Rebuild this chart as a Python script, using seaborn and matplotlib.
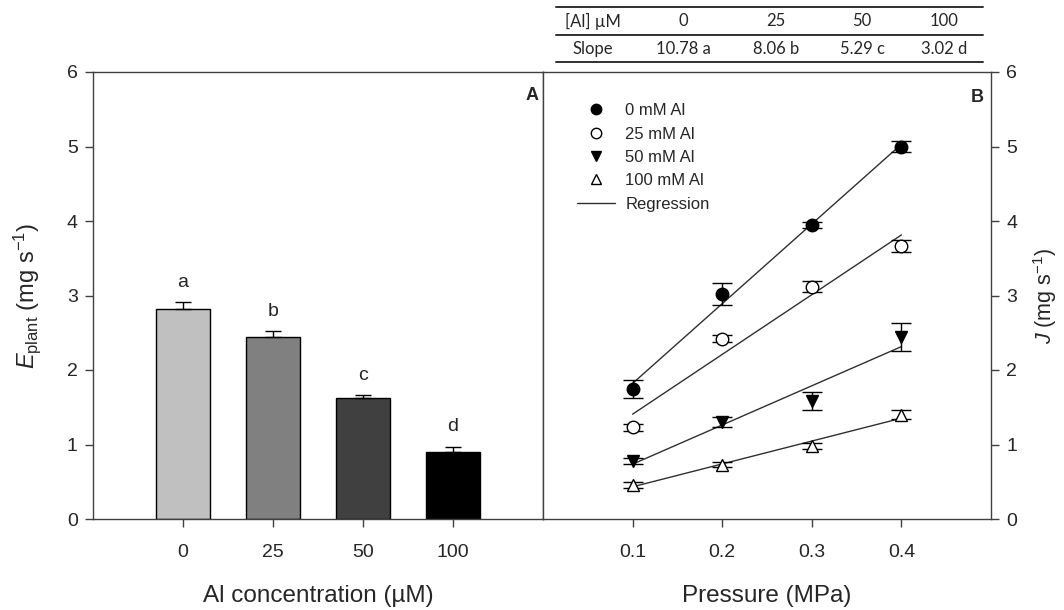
import numpy as np
import pandas as pd
import matplotlib
matplotlib.use("Agg")
import matplotlib.pyplot as plt
import seaborn as sns
from matplotlib.lines import Line2D

# ---------------- data ----------------
al_levels = ["0", "25", "50", "100"]
e_plant = [2.82, 2.44, 1.63, 0.90]
e_plant_err = [0.09, 0.08, 0.03, 0.07]
letters = ["a", "b", "c", "d"]
bar_colors = ["#c0c0c0", "#808080", "#404040", "#000000"]

pressure = [0.1, 0.2, 0.3, 0.4]
series_labels = ["0 mM Al", "25 mM Al", "50 mM Al", "100 mM Al"]
j_0 = [1.74, 3.02, 3.94, 5.00]
j_0_err = [0.12, 0.15, 0.04, 0.08]
j_25 = [1.23, 2.42, 3.12, 3.67]
j_25_err = [0.05, 0.05, 0.07, 0.08]
j_50 = [0.78, 1.30, 1.58, 2.44]
j_50_err = [0.04, 0.07, 0.12, 0.19]
j_100 = [0.46, 0.73, 0.98, 1.40]
j_100_err = [0.04, 0.03, 0.04, 0.06]

table_header = ["[Al] \u00b5M", "0", "25", "50", "100"]
table_slope = ["Slope", "10.78 a", "8.06 b", "5.29 c", "3.02 d"]

# ---------------- style ----------------
sns.set_theme(style="white")
plt.rcParams["font.family"] = ["Liberation Sans", "DejaVu Sans"]
plt.rcParams["mathtext.fontset"] = "custom"
plt.rcParams["mathtext.rm"] = "Liberation Sans"
plt.rcParams["mathtext.it"] = "Liberation Sans:italic"
plt.rcParams["mathtext.bf"] = "Liberation Sans:bold"

SPINE = "#404040"
SANS = ["Liberation Sans", "DejaVu Sans"]
fig = plt.figure(figsize=(10.64, 6.10), dpi=100)
ax1 = fig.add_axes([93 / 1064, 1 - 519 / 610, 450 / 1064, 447 / 610])
ax2 = fig.add_axes([543 / 1064, 1 - 519 / 610, 448 / 1064, 447 / 610])

# ---------------- panel A ----------------
df_a = pd.DataFrame({"al": al_levels, "e": e_plant})
sns.barplot(data=df_a, x="al", y="e", order=al_levels, hue="al",
            palette=bar_colors, legend=False, edgecolor="black",
            linewidth=1.0, width=0.6, saturation=1, ax=ax1)
xpos = np.arange(len(al_levels))
ax1.errorbar(xpos, e_plant, yerr=[np.zeros(len(e_plant)), e_plant_err],
             fmt="none", ecolor="black", elinewidth=1.0, capsize=6, capthick=1.0)
for xi, v, er, lt in zip(xpos, e_plant, e_plant_err, letters):
    ax1.text(xi, v + er + 0.27, lt, ha="center", va="center", fontsize=14)
ax1.set_xlim(-1, 4)
ax1.set_ylim(0, 6)
ax1.set_yticks(range(0, 7))
ax1.set_xlabel("Al concentration (\u00b5M)", fontsize=17.5, labelpad=17)
ax1.set_ylabel(r"$\mathit{E}_{\mathrm{plant}}$ (mg s$^{-1}$)", fontsize=17, labelpad=17)
ax1.text(0.975, 0.948, "A", transform=ax1.transAxes, ha="center", va="center",
         fontsize=13, fontweight="bold")
ax1.tick_params(axis="both", direction="out", length=6, width=1, color=SPINE,
                labelsize=14, bottom=True, left=True, pad=5)
ax1.tick_params(axis="x", pad=12)

# ---------------- panel B ----------------
series = [(j_0, j_0_err, "o", "black"),
          (j_25, j_25_err, "o", "white"),
          (j_50, j_50_err, "v", "black"),
          (j_100, j_100_err, "^", "white")]
handles = []
for (vals, errs, mk, fc), lab in zip(series, series_labels):
    sns.regplot(x=pressure, y=vals, scatter=False, ci=None, truncate=True,
                line_kws=dict(color="#303030", linewidth=1.0), ax=ax2)
    ax2.errorbar(pressure, vals, yerr=errs, fmt="none", ecolor="black",
                 elinewidth=1.0, capsize=7, capthick=1.0, zorder=3)
    ax2.plot(pressure, vals, linestyle="none", marker=mk, markersize=9,
             markerfacecolor=fc, markeredgecolor="black", markeredgewidth=1.0, zorder=4)
    handles.append(Line2D([], [], linestyle="none", marker=mk, markersize=7.5,
                          markerfacecolor=fc, markeredgecolor="black",
                          markeredgewidth=1.0, label=lab))
handles.append(Line2D([], [], color="#303030", linewidth=1.0, label="Regression"))
ax2.legend(handles=handles, loc="upper left", bbox_to_anchor=(0.076, 0.93),
           frameon=False, prop={"family": SANS, "size": 12}, handlelength=2.3,
           labelspacing=0.5, handletextpad=0.6, borderaxespad=0, borderpad=0)
ax2.set_xlim(0, 0.5)
ax2.set_ylim(0, 6)
ax2.set_xticks(pressure)
ax2.set_xticklabels([f"{p:.1f}" for p in pressure])
ax2.set_yticks(range(0, 7))
ax2.yaxis.tick_right()
ax2.yaxis.set_label_position("right")
ax2.set_xlabel("Pressure (MPa)", fontsize=17.5, labelpad=17)
ax2.set_ylabel(r"$\mathit{J}$ (mg s$^{-1}$)", fontsize=15.5, labelpad=10,
               rotation=90)
ax2.text(0.97, 0.944, "B", transform=ax2.transAxes, ha="center", va="center",
         fontsize=13, fontweight="bold")
ax2.tick_params(axis="both", direction="out", length=6, width=1, color=SPINE,
                labelsize=14, bottom=True, right=True, left=False, pad=5)
ax2.tick_params(axis="x", pad=12)

for ax in (ax1, ax2):
    for sp in ax.spines.values():
        sp.set_color(SPINE)
        sp.set_linewidth(1.0)
        sp.set_visible(True)

# ---------------- slope table ----------------
col_x = [593, 683, 776, 862, 944]
for y_px in (7, 35, 62):
    fig.add_artist(Line2D([556 / 1064, 983 / 1064], [1 - y_px / 610] * 2,
                          color="#303030", linewidth=1.4))
for cx, h, s in zip(col_x, table_header, table_slope):
    fig.text(cx / 1064, 1 - 21.5 / 610, h, ha="center", va="center",
             fontsize=12, family=["Lato", "DejaVu Sans"])
    fig.text(cx / 1064, 1 - 49 / 610, s, ha="center", va="center",
             fontsize=12, family=["Lato", "DejaVu Sans"])

fig.savefig("out.png", dpi=100)
